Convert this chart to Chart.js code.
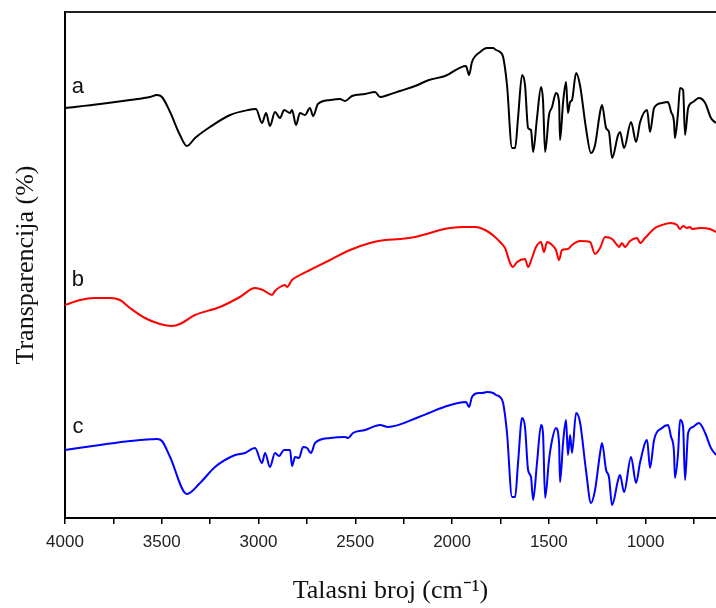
<!DOCTYPE html>
<html>
<head>
<meta charset="utf-8">
<title>FTIR spektri</title>
<script src="https://cdn.jsdelivr.net/npm/chart.js@4.4.1/dist/chart.umd.min.js"></script>
<style>
  html, body { margin: 0; padding: 0; background: #fff; }
  #wrap { width: 716px; height: 608px; }
</style>
</head>
<body>
<div id="wrap"><canvas id="ftirChart" width="716" height="608"></canvas></div>
<script>
// Talasni broj (cm-1) i transparencija (proizvoljne jedinice) za svaki spektar
const waveA = [4000, 3819, 3664, 3561, 3525, 3499, 3457, 3406, 3370, 3328, 3251, 3147, 3054, 3013, 2982, 2961, 2941, 2915, 2889, 2868, 2837, 2827, 2806, 2786, 2760, 2734, 2718, 2693, 2630, 2579, 2553, 2517, 2450, 2398, 2372, 2331, 2269, 2191, 2119, 2036, 1928, 1912, 1897, 1855, 1819, 1788, 1773, 1752, 1736, 1716, 1690, 1674, 1659, 1638, 1623, 1607, 1592, 1581, 1561, 1540, 1530, 1519, 1499, 1483, 1463, 1447, 1442, 1426, 1411, 1401, 1390, 1380, 1359, 1339, 1308, 1282, 1261, 1235, 1225, 1204, 1189, 1173, 1142, 1132, 1111, 1075, 1049, 1028, 992, 977, 956, 915, 884, 868, 853, 848, 832, 822, 806, 796, 780, 755, 724, 692, 662, 636];
const transA = [410, 414, 418, 421, 423, 421, 406, 383, 372, 380, 391, 403, 408, 409, 395, 405, 392, 406, 400, 408, 405, 408, 393, 405, 403, 410, 402, 414, 418, 419, 417, 422, 424, 426, 421, 423, 427, 432, 438, 442, 452, 443, 456, 466, 470, 470, 468, 466, 461, 433, 370, 370, 400, 443, 433, 390, 388, 366, 400, 431, 418, 366, 403, 411, 425, 416, 378, 416, 436, 405, 416, 418, 445, 433, 390, 365, 373, 406, 413, 390, 386, 360, 383, 386, 370, 396, 376, 396, 408, 386, 410, 415, 416, 406, 396, 380, 406, 430, 428, 383, 410, 416, 420, 415, 400, 395];

const waveB = [4000, 3922, 3845, 3767, 3716, 3664, 3587, 3509, 3447, 3406, 3328, 3199, 3096, 3018, 2977, 2930, 2915, 2889, 2863, 2853, 2827, 2786, 2734, 2630, 2527, 2424, 2346, 2269, 2191, 2114, 2062, 2010, 1933, 1881, 1829, 1778, 1752, 1726, 1700, 1685, 1664, 1623, 1607, 1587, 1566, 1540, 1525, 1509, 1483, 1463, 1447, 1432, 1401, 1380, 1339, 1287, 1261, 1235, 1209, 1173, 1147, 1137, 1122, 1106, 1080, 1044, 1028, 1003, 951, 915, 873, 837, 822, 806, 786, 770, 760, 718, 667, 636];
const transB = [213, 218, 220, 220, 218, 210, 200, 194, 192, 194, 203, 211, 221, 230, 228, 223, 227, 231, 233, 231, 238, 243, 248, 258, 268, 275, 278, 279, 281, 285, 288, 290, 291, 291, 288, 281, 276, 270, 255, 251, 256, 259, 251, 260, 271, 276, 266, 276, 273, 268, 258, 268, 269, 273, 277, 276, 264, 270, 281, 279, 273, 271, 275, 271, 277, 280, 275, 280, 290, 293, 295, 293, 289, 292, 290, 291, 289, 290, 289, 286];

const waveC = [4000, 3819, 3664, 3525, 3499, 3457, 3370, 3302, 3225, 3121, 3070, 3018, 2982, 2966, 2941, 2915, 2894, 2868, 2837, 2827, 2811, 2791, 2770, 2749, 2729, 2708, 2630, 2553, 2537, 2512, 2450, 2372, 2331, 2171, 2119, 2041, 1928, 1912, 1897, 1861, 1845, 1819, 1788, 1773, 1752, 1736, 1716, 1690, 1674, 1659, 1638, 1623, 1607, 1592, 1581, 1561, 1540, 1530, 1519, 1499, 1483, 1463, 1447, 1442, 1426, 1411, 1401, 1390, 1380, 1359, 1339, 1308, 1282, 1261, 1235, 1225, 1204, 1189, 1173, 1142, 1132, 1111, 1075, 1049, 1028, 992, 977, 956, 915, 884, 868, 853, 848, 832, 822, 806, 796, 780, 755, 724, 692, 662, 636];
const transC = [68, 73, 77, 79, 77, 61, 24, 35, 51, 63, 65, 70, 55, 65, 51, 65, 62, 68, 68, 52, 61, 60, 71, 70, 65, 75, 80, 81, 80, 85, 88, 93, 91, 101, 105, 111, 116, 111, 121, 125, 125, 126, 125, 123, 121, 115, 85, 21, 21, 55, 100, 91, 48, 41, 18, 55, 93, 85, 20, 58, 78, 90, 75, 36, 76, 98, 63, 83, 65, 105, 96, 48, 15, 28, 65, 75, 48, 41, 13, 38, 43, 26, 61, 35, 56, 78, 50, 78, 90, 93, 81, 66, 40, 65, 98, 91, 38, 85, 91, 95, 85, 70, 63];

// Oznake osa
const xTicks = [4000, 3750, 3500, 3250, 3000, 2750, 2500, 2250, 2000, 1750, 1500, 1250, 1000, 750];
const xRange = [636, 4000];
const yRange = [0, 506];

// Slova uz krive
const curveNames = ['a', 'b', 'c'];
const nameWave = [3933, 3933, 3933];
const nameLevel = [425, 232, 85];

function toPoints(xs, ys) {
    return xs.map((x, i) => ({ x: x, y: ys[i] }));
}

const framePlugin = {
    id: 'frame',
    afterDraw(chart) {
        const { ctx, chartArea, scales } = chart;
        ctx.save();
        // gornja ivica okvira
        ctx.strokeStyle = '#222';
        ctx.lineWidth = 2;
        ctx.beginPath();
        ctx.moveTo(chartArea.left, chartArea.top);
        ctx.lineTo(chartArea.right, chartArea.top);
        ctx.stroke();
        // slova a, b, c
        ctx.fillStyle = '#111';
        ctx.font = '22px "Liberation Sans", Arial, sans-serif';
        ctx.textAlign = 'center';
        ctx.textBaseline = 'alphabetic';
        curveNames.forEach((n, i) => {
            ctx.fillText(n, scales.x.getPixelForValue(nameWave[i]), scales.y.getPixelForValue(nameLevel[i]));
        });
        ctx.restore();
    }
};

const lineStyle = { borderWidth: 2, pointRadius: 0, cubicInterpolationMode: 'monotone', fill: false };

new Chart(document.getElementById('ftirChart'), {
    type: 'line',
    data: {
        datasets: [
            { label: 'a', data: toPoints(waveA, transA), borderColor: '#000000', ...lineStyle },
            { label: 'b', data: toPoints(waveB, transB), borderColor: '#ff0000', ...lineStyle },
            { label: 'c', data: toPoints(waveC, transC), borderColor: '#0000ff', ...lineStyle }
        ]
    },
    options: {
        responsive: false,
        animation: false,
        layout: { padding: { top: 12, right: 0, left: 0, bottom: 0 } },
        plugins: { legend: { display: false }, tooltip: { enabled: false } },
        scales: {
            x: {
                type: 'linear',
                reverse: true,
                min: xRange[0],
                max: xRange[1],
                afterBuildTicks: (scale) => { scale.ticks = xTicks.map(v => ({ value: v })); },
                afterFit: (scale) => { scale.height = 90; },
                ticks: {
                    autoSkip: false,
                    maxRotation: 0,
                    padding: 8,
                    color: '#222',
                    font: { family: '"Liberation Sans", Arial, sans-serif', size: 17 },
                    callback: (v) => (v % 500 === 0 ? String(v) : '')
                },
                grid: { drawOnChartArea: false, drawTicks: true, tickLength: 6, color: '#000', lineWidth: 1.5 },
                border: { display: true, color: '#000', width: 2 },
                title: {
                    display: true,
                    text: 'Talasni broj (cm\u207B\u00B9)',
                    color: '#111',
                    font: { family: '"Liberation Serif", "Times New Roman", serif', size: 26 },
                    padding: { top: 0, bottom: 1 }
                }
            },
            y: {
                min: yRange[0],
                max: yRange[1],
                afterFit: (scale) => { scale.width = 65; },
                ticks: { display: false },
                grid: { display: false },
                border: { display: true, color: '#000', width: 2 },
                title: {
                    display: true,
                    text: 'Transparencija (%)',
                    color: '#111',
                    font: { family: '"Liberation Serif", "Times New Roman", serif', size: 26 },
                    padding: { top: 11, bottom: 0 }
                }
            }
        }
    },
    plugins: [framePlugin]
});
</script>
</body>
</html>
